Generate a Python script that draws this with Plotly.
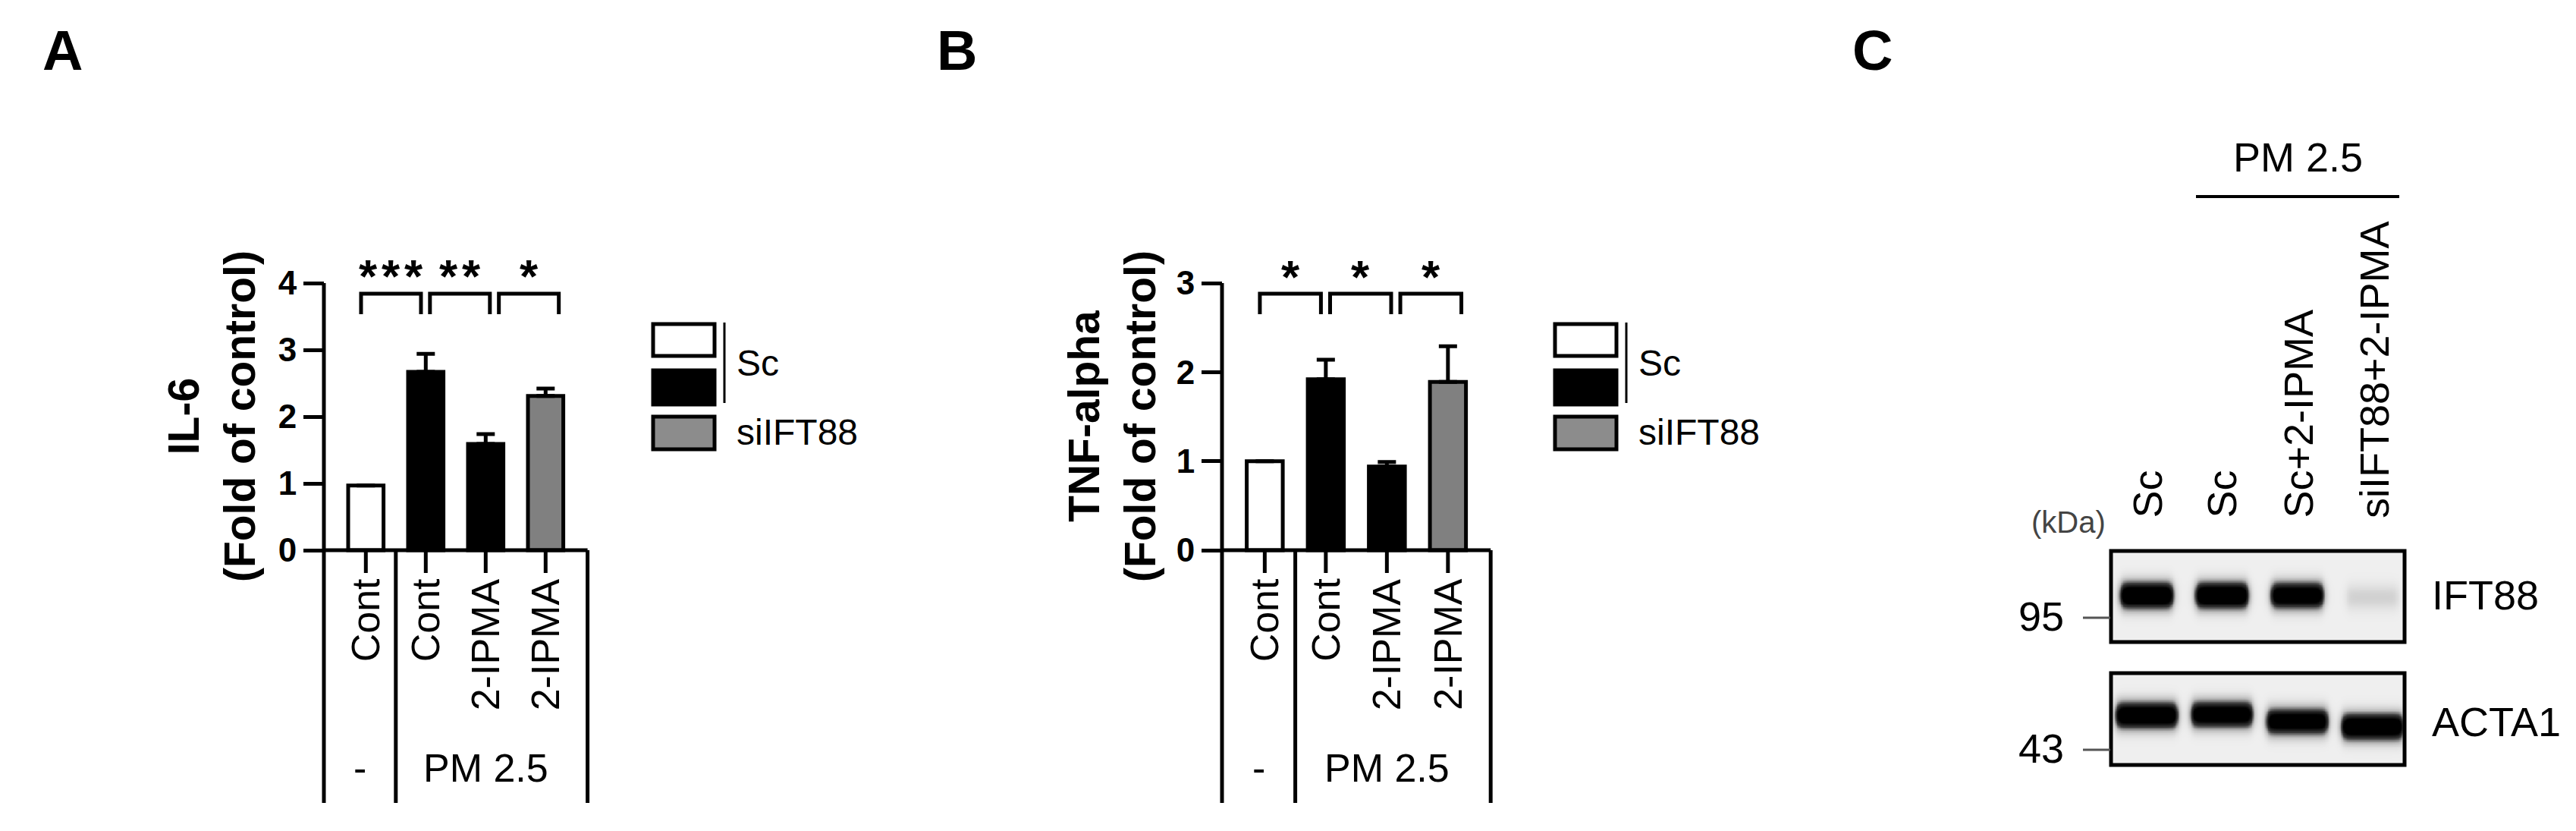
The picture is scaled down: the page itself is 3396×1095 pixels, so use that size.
import numpy as np
import plotly.graph_objects as go

W, H = 3396, 1095
FONT = "Liberation Sans, Arial, sans-serif"

# ---------------- data ----------------
bar_x = [0, 1, 2, 3]
groups = ["Cont", "Cont", "2-IPMA", "2-IPMA"]
treat_labels = ["-", "PM 2.5"]
il6_mean = [0.97, 2.67, 1.59, 2.31]
il6_err = [0.0, 0.27, 0.15, 0.11]
tnf_mean = [1.00, 1.92, 0.94, 1.89]
tnf_err = [0.0, 0.22, 0.05, 0.40]
bar_colors = ["#ffffff", "#000000", "#000000", "#808080"]
il6_sig = [(0, 1, "***"), (1, 2, "**"), (2, 3, "*")]
tnf_sig = [(0, 1, "*"), (1, 2, "*"), (2, 3, "*")]
il6_ticks = [0, 1, 2, 3, 4]
tnf_ticks = [0, 1, 2, 3]
legend_labels = ["Sc", "siIFT88"]
legend_colors = ["#ffffff", "#000000", "#8c8c8c"]

lanes = ["Sc", "Sc", "Sc+2-IPMA", "siIFT88+2-IPMA"]
ift88_intensity = [1.0, 1.0, 0.92, 0.10]
acta1_intensity = [0.95, 0.90, 0.88, 0.97]
ift88_pos = [0.48, 0.48, 0.48, 0.50]      # relative migration inside strip
acta1_pos = [0.45, 0.44, 0.52, 0.58]
mw_markers = ["95", "43"]
blot_names = ["IFT88", "ACTA1"]


def px(x):
    return x / W


def py(y):
    return 1 - y / H


fig = go.Figure()
ann = []
shapes = []

LW = 5


def text_ann(x, y, text, size, xref="paper", yref="paper", bold=False, color="black",
             xanchor="center", yanchor="middle", angle=0, **kw):
    f = dict(family=FONT, size=size, color=color)
    if bold:
        f["weight"] = "bold"
    d = dict(x=x, y=y, xref=xref, yref=yref, text=text, showarrow=False,
             xanchor=xanchor, yanchor=yanchor, textangle=angle, font=f)
    d.update(kw)
    ann.append(d)


def bar_panel(n, axis_px, ux, y0_px, uy, ylo, table_bottom, ticks, mean, err, sig,
              title, title_x, legend_x, letter, letter_x):
    xa = "x" if n == 1 else f"x{n}"
    ya = "y" if n == 1 else f"y{n}"
    xr = [-0.8, 3.8]
    yhi = (y0_px - 318) / uy
    c0 = axis_px + 0.7 * ux
    dom_x = [px(c0 + xr[0] * ux), px(c0 + xr[1] * ux)]
    dom_y = [py(y0_px - ylo * uy), py(y0_px - yhi * uy)]
    fig.update_layout(**{
        ("xaxis" if n == 1 else f"xaxis{n}"): dict(domain=dom_x, range=xr, visible=False,
                                                   anchor=ya, fixedrange=True),
        ("yaxis" if n == 1 else f"yaxis{n}"): dict(
            domain=dom_y, range=[ylo, yhi], anchor="free", position=px(axis_px),
            tickvals=ticks, ticktext=[str(t) for t in ticks], ticks="outside",
            ticklen=27, tickwidth=LW, tickcolor="black", showline=False, showgrid=False,
            zeroline=False, tickfont=dict(family=FONT, size=44, color="black", weight="bold"),
            fixedrange=True),
    })
    fig.add_trace(go.Bar(
        x=bar_x, y=mean, width=0.59, xaxis=xa, yaxis=ya,
        marker=dict(color=bar_colors, line=dict(color="black", width=LW)),
        error_y=dict(type="data", array=err, arrayminus=[0] * len(err), symmetric=False,
                     color="black", thickness=LW, width=12),
        hoverinfo="skip"))
    ymax = max(ticks)
    tick_len = 30 / uy
    lx, ly = [], []
    for seg in [((-0.7, -0.7), (ymax, table_bottom)), ((-0.7, 3.7), (0, 0)),
                ((0.5, 0.5), (0, table_bottom)), ((3.7, 3.7), (0, table_bottom))]:
        lx += list(seg[0]) + [None]
        ly += list(seg[1]) + [None]
    for b in bar_x:
        lx += [b, b, None]
        ly += [0, -tick_len, None]
    # significance brackets
    offs = [-0.08, 0.07, 0.22]
    top = ymax - 14 / uy
    arm = 27 / uy
    for k, (i, j, s) in enumerate(sig):
        a, b = i + offs[k], j + offs[k]
        lx += [a, a, b, b, None]
        ly += [top - arm, top, top, top - arm, None]
        nst = len(s)
        for m in range(nst):
            text_ann((a + b) / 2, top + 36 / uy, "*", 62, xref=xa, yref=ya, bold=True,
                     xshift=(m - (nst - 1) / 2) * 30, yshift=-13)
    fig.add_trace(go.Scatter(x=lx, y=ly, mode="lines", xaxis=xa, yaxis=ya,
                             line=dict(color="black", width=LW), hoverinfo="skip"))
    # category labels
    for b, g in zip(bar_x, groups):
        text_ann(b, -35 / uy, g, 52, xref=xa, yref=ya, yanchor="top", angle=-90)
    ty = -(1004 - y0_px) / uy
    text_ann(0, ty, treat_labels[0], 52, xref=xa, yref=ya, xshift=-8)
    text_ann(2, ty, treat_labels[1], 52, xref=xa, yref=ya)
    # axis title
    text_ann(px(title_x), py(541), title, 57, bold=True, angle=-90)
    # legend
    boxes = [(419, 461), (480, 525), (541, 584)]
    for (t, bt), c in zip(boxes, legend_colors):
        shapes.append(dict(type="rect", xref="paper", yref="paper",
                           x0=px(legend_x), x1=px(legend_x + 81), y0=py(bt), y1=py(t),
                           fillcolor=c, line=dict(color="black", width=LW)))
    shapes.append(dict(type="line", xref="paper", yref="paper", x0=px(legend_x + 94),
                       x1=px(legend_x + 94), y0=py(417), y1=py(523),
                       line=dict(color="black", width=3)))
    text_ann(px(legend_x + 108), py(470), legend_labels[0], 48, xanchor="left")
    text_ann(px(legend_x + 108), py(561), legend_labels[1], 48, xanchor="left")
    text_ann(px(letter_x), py(58), letter, 74, bold=True)


bar_panel(1, 419, 79.0, 717, 88.0, -3.85, -3.784, il6_ticks, il6_mean, il6_err, il6_sig,
          "IL-6<br>(Fold of control)", 271, 853, "A", 74)
bar_panel(2, 1603, 80.5, 717, 117.33, -2.9, -2.838, tnf_ticks, tnf_mean, tnf_err, tnf_sig,
          "TNF-alpha<br>(Fold of control)", 1458, 2042, "B", 1253)

# ---------------- panel C : western blot ----------------
text_ann(px(2460), py(58), "C", 74, bold=True)
text_ann(px(3021), py(199), "PM 2.5", 54)
shapes.append(dict(type="line", xref="paper", yref="paper", x0=px(2887), x1=px(3155),
                   y0=py(251), y1=py(251), line=dict(color="black", width=4)))

lane_px = [2822, 2920, 3021, 3122]
for lx_, lab in zip(lane_px, lanes):
    text_ann(px(lx_), py(677), lab, 54, yanchor="bottom", angle=-90)
text_ann(px(2719), py(680), "(kDa)", 40, color="#444444")

strips = [(721, 836), (882, 998)]
mw_y = [804, 978]
name_y = [776, 943]
xs = np.linspace(-0.45, 3.41, 240)
ys = np.linspace(0, 1, 80)
XX, YY = np.meshgrid(xs, ys)
for k, (inten, pos, hw) in enumerate([(ift88_intensity, ift88_pos, 0.34),
                                      (acta1_intensity, acta1_pos, 0.40)]):
    z = np.zeros_like(XX)
    for i in range(4):
        prof_x = 1 / (1 + np.exp((np.abs(XX - i) - hw) / 0.025))
        prof_y = np.exp(-0.5 * ((YY - pos[i]) / 0.10) ** 2)
        z += inten[i] * prof_x * prof_y
    z = np.clip(z * 1.5, 0, 1)
    n = 3 + k
    t, b = strips[k]
    fig.update_layout(**{
        f"xaxis{n}": dict(domain=[px(2777), px(3160)], range=[-0.45, 3.41], visible=False,
                          anchor=f"y{n}", fixedrange=True),
        f"yaxis{n}": dict(domain=[py(b), py(t)], range=[1, 0], visible=False,
                          anchor=f"x{n}", fixedrange=True),
    })
    fig.add_trace(go.Heatmap(x=xs, y=ys, z=z, xaxis=f"x{n}", yaxis=f"y{n}",
                             zmin=0, zmax=1, showscale=False, zsmooth="best",
                             colorscale=[[0, "#efefef"], [0.25, "#bdbdbd"],
                                         [0.6, "#3a3a3a"], [1, "#000000"]],
                             hoverinfo="skip"))
    shapes.append(dict(type="rect", xref="paper", yref="paper", x0=px(2775), x1=px(3162),
                       y0=py(b + 2), y1=py(t - 3), line=dict(color="black", width=LW),
                       fillcolor="rgba(0,0,0,0)", layer="above"))
    text_ann(px(2715), py(mw_y[k]), mw_markers[k], 54, xanchor="right")
    shapes.append(dict(type="line", xref="paper", yref="paper", x0=px(2738), x1=px(2774),
                       y0=py(mw_y[k] + 2), y1=py(mw_y[k] + 2),
                       line=dict(color="#555555", width=3)))
    text_ann(px(3196), py(name_y[k]), blot_names[k], 54, xanchor="left")

fig.update_layout(width=W, height=H, margin=dict(l=0, r=0, t=0, b=0),
                  paper_bgcolor="white", plot_bgcolor="rgba(0,0,0,0)",
                  showlegend=False, annotations=ann, shapes=shapes)
fig.write_html("out.html")
